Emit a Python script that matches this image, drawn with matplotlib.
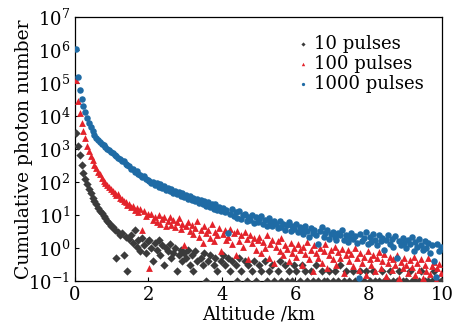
import numpy as np
import matplotlib
matplotlib.use('Agg')
import matplotlib.pyplot as plt
from matplotlib.ticker import LogLocator, NullLocator

plt.rcParams['font.family'] = ['DejaVu Serif']
plt.rcParams['mathtext.fontset'] = 'dejavuserif'

# altitude bins (km), 50 m wide
altitude = np.round(np.arange(0.025, 10.0, 0.05), 3)

# cumulative photon number, 1000 pulses
n_1000 = [
    1.1e6, 1.5e5, 6.3e4, 3.3e4, 2.0e4, 1.3e4, 8.9e3, 6.3e3, 4.6e3, 3.5e3,
    2.7e3, 2.2e3, 1.9e3, 1.6e3, 1.45e3, 1.3e3, 1.15e3, 1.0e3, 900, 800,
    740, 650, 620, 540, 500, 430, 420, 350, 330, 300,
    250, 240, 200, 210, 170, 160, 140, 150, 120, 115,
    105, 90, 100, 82, 95, 72, 85, 64, 75, 58,
    68, 52, 61, 47, 55, 42, 50, 38, 46, 35,
    41, 31, 37, 28, 33, 26, 30, 23, 29, 21,
    27, 19, 24, 18, 22, 15, 21, 14, 18, 13,
    16, 12, 14, 2.8, 11, 15, 9.5, 12, 8.0, 13,
    7.5, 10, 11, 6.5, 9.0, 7.0, 10, 5.8, 8.5, 6.2,
    7.5, 9.5, 5.5, 7.0, 4.8, 8.0, 6.0, 4.5, 6.8, 5.2,
    3.9, 6.5, 4.2, 5.5, 3.6, 5.0, 6.0, 3.3, 4.6, 3.8,
    5.2, 3.0, 4.4, 3.5, 2.6, 4.8, 3.2, 2.2, 4.0, 2.9,
    3.6, 2.4, 1.3, 3.3, 4.2, 2.1, 2.8, 3.5, 1.9, 2.6,
    3.0, 2.2, 1.7, 2.9, 2.4, 3.4, 1.8, 2.5, 1.5, 2.1,
    2.8, 1.9, 2.3, 1.4, 0.12, 2.6, 1.6, 2.0, 3.0, 1.3,
    2.2, 1.5, 2.7, 1.8, 1.2, 2.4, 1.6, 2.0, 0.9, 1.7,
    2.5, 1.3, 1.9, 1.1, 2.3, 0.5, 1.6, 1.2, 2.0, 1.4,
    1.0, 1.8, 1.3, 2.2, 0.8, 1.5, 1.1, 1.9, 1.2, 0.9,
    1.6, 1.0, 1.4, 0.7, 1.2, 0.4, 0.13, 1.3, 0.8, 1.1,
]

# cumulative photon number, 100 pulses
n_100 = [
    1.2e5, 2.8e4, 1.2e4, 6.0e3, 3.5e3, 2.1e3, 1.2e3, 850, 600, 450,
    330, 260, 200, 170, 130, 110, 95, 80, 72, 60,
    52, 48, 40, 42, 33, 30, 27, 24, 20, 22,
    17, 19, 14, 16, 12, 15, 3.5, 13, 9.5, 11,
    0.25, 11, 7.0, 9.0, 6.0, 10, 5.5, 7.5, 8.5, 4.8,
    6.5, 9.0, 5.0, 7.0, 4.2, 6.0, 8.0, 3.8, 5.5, 1.2,
    4.5, 6.2, 3.2, 5.0, 2.6, 4.0, 6.5, 2.2, 3.5, 1.4,
    4.8, 2.8, 3.6, 2.0, 5.2, 1.6, 3.0, 2.4, 4.0, 0.8,
    2.6, 3.5, 1.8, 2.2, 3.8, 1.3, 2.9, 0.6, 3.3, 1.6,
    2.4, 1.1, 3.0, 1.9, 0.45, 2.5, 1.4, 2.0, 0.9, 1.7,
    2.2, 0.7, 1.5, 1.0, 2.4, 0.5, 1.3, 1.8, 0.35, 1.1,
    1.6, 0.8, 2.0, 0.6, 1.2, 0.95, 0.4, 1.4, 0.7, 1.0,
    0.55, 1.3, 0.85, 0.3, 1.1, 0.65, 1.5, 0.45, 0.9, 0.2,
    1.2, 0.7, 0.5, 1.0, 0.35, 0.8, 1.3, 0.25, 0.6, 0.9,
    0.45, 1.1, 0.3, 0.75, 0.5, 0.95, 0.18, 0.6, 0.85, 0.4,
    0.65, 0.28, 1.0, 0.5, 0.22, 0.7, 0.35, 0.55, 0.15, 0.8,
    0.45, 0.3, 0.6, 0.2, 0.5, 0.75, 0.25, 0.4, 0.65, 0.14,
    0.35, 0.55, 0.22, 0.45, 0.3, 0.6, 0.12, 0.38, 0.25, 0.5,
    0.3, 0.18, 0.42, 0.26, 0.55, 0.15, 0.35, 0.22, 0.45, 0.12,
    0.3, 0.2, 0.5, 0.16, 0.28, 0.38, 0.11, 0.24, 0.33, 0.18,
]

# cumulative photon number, 10 pulses (0 = nothing counted)
n_10 = [
    3000, 1200, 640, 330, 190, 120, 85, 62, 45, 33,
    26, 21, 16, 13.5, 11.2, 9.4, 8.1, 6.6, 5.9, 4.8,
    4.4, 3.6, 0.5, 3.1, 2.5, 2.9, 0.6, 2.2, 0.2, 1.9,
    2.4, 1.4, 3.5, 1.1, 1.8, 0.8, 2.0, 1.2, 0.7, 1.6,
    1.7, 1.0, 0.4, 1.4, 0.9, 1.7, 0.6, 1.2, 0.3, 1.0,
    0.8, 1.3, 0.5, 0.7, 1.0, 0.2, 0.6, 0.9, 0.4, 0.7,
    0.5, 0.9, 0.3, 0.6, 0.2, 0.8, 0.4, 0.0, 0.5, 0.3,
    0.7, 0.1, 0.4, 0.6, 0.0, 0.3, 0.5, 0.2, 0.0, 0.4,
    0.6, 0.3, 0.0, 0.5, 0.2, 0.4, 0.0, 0.3, 0.1, 0.5,
    0.2, 0.0, 0.4, 0.1, 0.3, 0.0, 0.2, 0.4, 0.1, 0.0,
    0.3, 0.2, 0.0, 0.4, 0.1, 0.2, 0.0, 0.3, 0.1, 0.0,
    0.2, 0.4, 0.1, 0.0, 0.3, 0.1, 0.2, 0.0, 0.1, 0.3,
    0.2, 0.0, 0.1, 0.3, 0.0, 0.2, 0.1, 0.0, 0.2, 0.1,
    0.0, 0.3, 0.1, 0.0, 0.2, 0.1, 0.0, 0.1, 0.2, 0.0,
    0.1, 0.2, 0.0, 0.1, 0.3, 0.0, 0.1, 0.2, 0.0, 0.1,
    0.0, 0.2, 0.1, 0.0, 0.1, 0.2, 0.0, 0.1, 0.2, 0.0,
    0.1, 0.0, 0.2, 0.1, 0.0, 0.1, 0.0, 0.2, 0.1, 0.0,
    0.1, 0.2, 0.0, 0.1, 0.0, 0.1, 0.2, 0.0, 0.1, 0.0,
    0.1, 0.0, 0.2, 0.1, 0.0, 0.1, 0.0, 0.1, 0.2, 0.0,
    0.1, 0.0, 0.1, 0.0, 0.1, 0.2, 0.0, 0.1, 0.0, 0.1,
]

labels = ['10 pulses', '100 pulses', '1000 pulses']

fig = plt.figure(figsize=(4.58, 3.26), dpi=100)
ax = fig.add_axes([0.164, 0.138, 0.801, 0.810])

series = [
    (n_10, 'D', '#3b3b3b', 18),
    (n_100, '^', '#e3232b', 24),
    (n_1000, 'o', '#1f6ba5', 22),
]
for (vals, mk, col, sz), lab in zip(series, labels):
    v = np.array(vals, dtype=float)
    ok = v > 0
    ax.scatter(altitude[ok], v[ok], marker=mk, s=sz, color=col,
               linewidths=0, label=lab, zorder=3)

ax.set_yscale('log')
ax.set_xlim(0, 10)
ax.set_ylim(1e-1, 1e7)
ax.yaxis.set_major_locator(LogLocator(base=10, numticks=20))
ax.yaxis.set_minor_locator(NullLocator())
ax.set_xticks([0, 2, 4, 6, 8, 10])
ax.tick_params(direction='in', length=3, labelsize=13, width=0.8)
for s in ax.spines.values():
    s.set_linewidth(0.9)

ax.set_xlabel('Altitude /km', fontsize=13, labelpad=1)
ax.set_ylabel('Cumulative photon number', fontsize=13.5)
ax.yaxis.set_label_coords(-0.115, 0.5)

leg = ax.legend(loc='upper right', frameon=False, fontsize=13,
                handletextpad=0.1, labelspacing=0.1, markerscale=0.5,
                borderaxespad=0.6, handlelength=1.0)

plt.savefig('out.png', dpi=100)
